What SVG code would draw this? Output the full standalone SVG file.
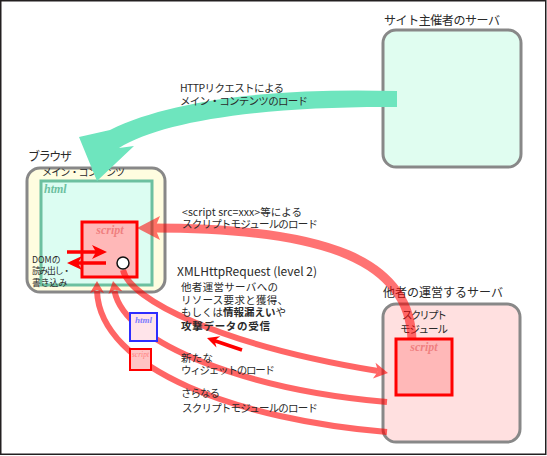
<svg xmlns="http://www.w3.org/2000/svg" width="547" height="456" viewBox="0 0 547 456">
<style>
text{font-family:"Noto Sans CJK JP","Liberation Sans",sans-serif;fill:#2a2a2a}
.t{font-size:10.5px}
.s{font-size:8.8px}
.h{font-size:12px}
.b{font-weight:bold}
.srv{stroke:#888;stroke-width:3}
.lab{font-family:"Liberation Serif",serif;font-style:italic;font-weight:bold}
.band{fill:none;stroke:#ff0000}
.solid{stroke:#ff0000;stroke-width:3.5;fill:none}
</style>
<rect x="0.75" y="0.75" width="545" height="453.5" fill="#fff" stroke="#231f20" stroke-width="1.5"/>

<g id="site-server">
<rect class="srv" x="383" y="30" width="138" height="137" rx="13" fill="#e0fdf0"/>
<text class="h" x="384" y="25" textLength="116">サイト主催者のサーバ</text>
</g>

<g id="other-server">
<rect class="srv" x="383" y="304" width="137" height="138" rx="13" fill="#ffe0e0"/>
<text class="h" x="383" y="297" textLength="120">他者の運営するサーバ</text>
<text class="t" x="402" y="319" textLength="45">スクリプト</text>
<text class="t" x="400" y="333" textLength="48">モジュール</text>
<rect x="396" y="339" width="56" height="56" fill="#ffb8b8" stroke="#ff0000" stroke-width="3"/>
<text class="lab" x="424" y="351" font-size="12" text-anchor="middle" style="fill:#f08080">script</text>
</g>

<g id="browser">
<text class="h" x="28" y="161" textLength="44">ブラウザ</text>
<rect class="srv" x="27" y="168" width="138" height="124" rx="13" fill="#fffde0"/>
<text x="42" y="176" font-size="10" textLength="83">メイン・コンテンツ</text>
<rect x="41" y="181" width="111" height="104" fill="#dcfdf2" stroke="#6cc0a0" stroke-width="3"/>
<text class="lab" x="44" y="193" font-size="12" style="fill:#6cc0a0">html</text>
<rect x="82" y="222" width="55" height="55" fill="#ffb8b8" stroke="#ff0000" stroke-width="3"/>
<text class="lab" x="110" y="234" font-size="12" text-anchor="middle" style="fill:#f08080">script</text>
<text class="s" x="32" y="263">DOMの</text>
<text class="s" x="32" y="274" textLength="39">読み出し・</text>
<text class="s" x="32" y="286">書き込み</text>
</g>

<g id="connectors">
<path id="main-load" d="M397,91 C300,88 180,95 110,130 L79,137 L97,181 L134,146 L119,148 C160,122 260,106 397,107 Z" fill="#6ee5be"/>
<g id="script-load" opacity="0.55">
<path class="band" stroke-width="9" d="M412,340 C410,262 330,228 152,228"/>
<polygon points="137,228 160,216 155,228 160,240" fill="#ff0000"/>
</g>
<g id="xhr" opacity="0.6">
<path class="band" stroke-width="6" d="M123,270 C130,300 220,345 378,371"/>
<polygon points="388,373 375.5,362.8 378.1,371.3 372.9,378.6" fill="#ff0000"/>
</g>
<g id="widget-load" opacity="0.6">
<path class="band" stroke-width="6" d="M387,402 C250,390 125,345 114.5,291"/>
<polygon points="113,281 122.3,291.3 114.8,289.8 108.5,294.1" fill="#ff0000"/>
</g>
<g id="more-script-load" opacity="0.6">
<path class="band" stroke-width="6" d="M387,432 C240,420 100,370 97,291"/>
<polygon points="97,281 104,293 97,290 90,293" fill="#ff0000"/>
</g>
<circle cx="123" cy="263" r="6" fill="#fff" stroke="#111" stroke-width="1.5"/>
<g id="dom-rw">
<line class="solid" x1="67" y1="252" x2="100" y2="252"/>
<polygon points="107,252 92,245 96,252 92,259" fill="#ff0000"/>
<line class="solid" x1="106" y1="263" x2="74" y2="263"/>
<polygon points="67,263 82,256 78,263 82,270" fill="#ff0000"/>
</g>
<g id="attack">
<line class="solid" x1="242" y1="350" x2="214" y2="340.5"/>
<polygon points="207,338 220.3,336.2 214.6,340.6 216.5,347.6" fill="#ff0000"/>
</g>
</g>

<g id="widget-html">
<rect x="130" y="313" width="27" height="28" fill="#ffe4ea" stroke="#2e2eff" stroke-width="2"/>
<text class="lab" x="143.5" y="323" font-size="9" text-anchor="middle" style="fill:#7c7cff">html</text>
</g>
<g id="widget-script">
<rect x="130" y="349" width="21" height="21" fill="#ffc4c4" stroke="#ff0000" stroke-width="2"/>
<text class="lab" x="140.5" y="357" font-size="7.5" text-anchor="middle" style="fill:#ff8080;font-weight:normal">script</text>
</g>

<g id="labels">
<text class="t" x="180" y="92" textLength="104">HTTPリクエストによる</text>
<text class="t" x="180" y="105" textLength="128">メイン・コンテンツのロード</text>
<text class="t" x="182" y="216" textLength="120">&lt;script src=xxx&gt;等による</text>
<text class="t" x="182" y="228" textLength="136">スクリプトモジュールのロード</text>
<text class="h" x="177" y="276" textLength="140">XMLHttpRequest (level 2)</text>
<text class="t" x="181" y="291" textLength="97">他者運営サーバへの</text>
<text class="t" x="181" y="304" textLength="107">リソース要求と獲得、</text>
<text class="t" x="181" y="316">もしくは<tspan class="b">情報漏えい</tspan>や</text>
<text class="t b" x="181" y="330" textLength="89">攻撃データの受信</text>
<text class="t" x="181" y="362" textLength="32">新たな</text>
<text class="t" x="181" y="374" textLength="94">ウィジェットのロード</text>
<text class="t" x="181" y="397" textLength="39">さらなる</text>
<text class="t" x="182" y="412" textLength="136">スクリプトモジュールのロード</text>
</g>
</svg>
